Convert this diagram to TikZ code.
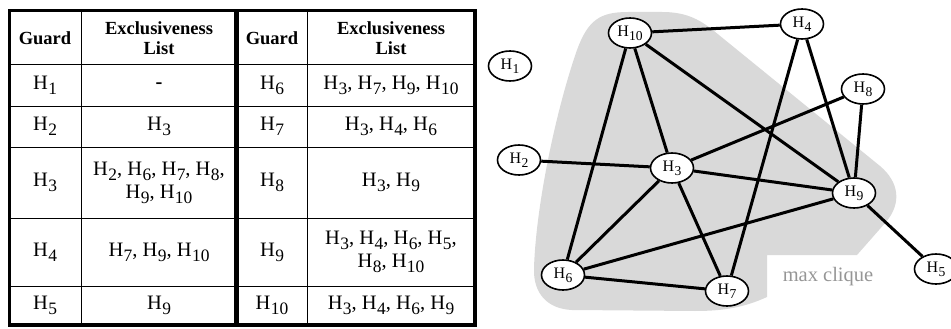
\documentclass[tikz,border=0pt]{standalone}
\usepackage{fontspec}
\setmainfont{Liberation Serif}
\usepackage{graphicx}
\usetikzlibrary{shapes.geometric}
\definecolor{clq}{RGB}{217,217,217}
\definecolor{clqtext}{RGB}{150,150,150}
\newcommand{\Hs}[1]{H\kern0.02em\raisebox{-0.25em}{\scalebox{0.85}{#1}}}
\begin{document}
\begin{tikzpicture}[x=1pt,y=-1pt,
  thinrule/.style={line width=1pt},
  outerrule/.style={line width=3.8pt},
  midrule/.style={line width=4.8pt},
  headtext/.style={font=\bfseries\fontsize{18.5}{20}\selectfont, align=center, inner sep=0pt},
  celltext/.style={font=\fontsize{20.5}{23}\selectfont, align=center, inner sep=0pt},
  gnode/.style={ellipse, draw, line width=1.6pt, fill=white, minimum width=43pt, minimum height=30pt, inner sep=0pt, font=\fontsize{16}{16}\selectfont},
  edge/.style={line width=3pt},
  cliquelabel/.style={font=\fontsize{20.5}{20.5}\selectfont, text=clqtext, inner sep=0pt}
]
\useasboundingbox (0,0) rectangle (951,329);
\clip (0,0) rectangle (951,329);

% ---------- table ----------
\foreach \yy in {65,106,147,218,286} \draw[thinrule] (9.5,\yy) -- (475,\yy);
\draw[thinrule] (81,11) -- (81,325);
\draw[thinrule] (307,11) -- (307,325);
\draw[midrule] (236.5,11) -- (236.5,325);
\draw[outerrule] (9.5,10.5) rectangle (475,325);

\node[headtext] (hg1) at (45,38) {Guard};
\node[headtext] (hl1) at (159,38) {Exclusiveness\\List};
\node[headtext] (hg2) at (272,38) {Guard};
\node[headtext] (hl2) at (391,38) {Exclusiveness\\List};

\node[celltext] (g1) at (45,85.5) {\Hs{1}};
\node[celltext] (l1) at (159,85.5) {\textbf{-}};
\node[celltext] (g6) at (272,85.5) {\Hs{6}};
\node[celltext] (l6) at (391,85.5) {\Hs{3}, \Hs{7}, \Hs{9}, \Hs{10}};

\node[celltext] (g2) at (45,126.5) {\Hs{2}};
\node[celltext] (l2) at (159,126.5) {\Hs{3}};
\node[celltext] (g7) at (272,126.5) {\Hs{7}};
\node[celltext] (l7) at (391,126.5) {\Hs{3}, \Hs{4}, \Hs{6}};

\node[celltext] (g3) at (45,182.5) {\Hs{3}};
\node[celltext] (l3) at (159,182.5) {\Hs{2}, \Hs{6}, \Hs{7}, \Hs{8},\\ \Hs{9}, \Hs{10}};
\node[celltext] (g8) at (272,182.5) {\Hs{8}};
\node[celltext] (l8) at (391,182.5) {\Hs{3}, \Hs{9}};

\node[celltext] (g4) at (45,252) {\Hs{4}};
\node[celltext] (l4) at (159,252) {\Hs{7}, \Hs{9}, \Hs{10}};
\node[celltext] (g9) at (272,252) {\Hs{9}};
\node[celltext] (l9) at (391,252) {\Hs{3}, \Hs{4}, \Hs{6}, \Hs{5},\\ \Hs{8}, \Hs{10}};

\node[celltext] (g5) at (45,305.5) {\Hs{5}};
\node[celltext] (l5) at (159,305.5) {\Hs{9}};
\node[celltext] (g10) at (272,305.5) {\Hs{10}};
\node[celltext] (l10) at (391,305.5) {\Hs{3}, \Hs{4}, \Hs{6}, \Hs{9}};

% ---------- max clique region ----------
\fill[clq] (534,268) .. controls (536,205) and (556,110) .. (577,50)
  .. controls (588,20) and (600,12) .. (628,12) -- (662,12)
  .. controls (684,12) and (698,18) .. (714,31) -- (880,166)
  .. controls (899,182) and (902,203) .. (886,222) -- (857,255)
  -- (767,255) -- (767,297)
  .. controls (745,307) and (725,311) .. (695,311) -- (572,310)
  .. controls (548,309) and (533,294) .. (534,268) -- cycle;
\node[cliquelabel] (mc) at (828,277) {max clique};

% ---------- graph ----------
\node[gnode] (h1) at (510,66) {\Hs{1}};
\node[gnode] (h10) at (630,33) {\Hs{10}};
\node[gnode] (h4) at (802,24) {\Hs{4}};
\node[gnode] (h8) at (863,89) {\Hs{8}};
\node[gnode] (h2) at (519,160) {\Hs{2}};
\node[gnode] (h3) at (672,168) {\Hs{3}};
\node[gnode] (h9) at (854,193) {\Hs{9}};
\node[gnode] (h6) at (563,275) {\Hs{6}};
\node[gnode] (h7) at (727,291) {\Hs{7}};
\node[gnode] (h5) at (936,269) {\Hs{5}};

\draw[edge] (h10) -- (h4);
\draw[edge] (h10) -- (h6);
\draw[edge] (h10) -- (h3);
\draw[edge] (h10) -- (h9);
\draw[edge] (h4) -- (h7);
\draw[edge] (h4) -- (h9);
\draw[edge] (h8) -- (h3);
\draw[edge] (h8) -- (h9);
\draw[edge] (h2) -- (h3);
\draw[edge] (h3) -- (h9);
\draw[edge] (h3) -- (h6);
\draw[edge] (h3) -- (h7);
\draw[edge] (h6) -- (h9);
\draw[edge] (h6) -- (h7);
\draw[edge] (h9) -- (h5);
\end{tikzpicture}
\end{document}
